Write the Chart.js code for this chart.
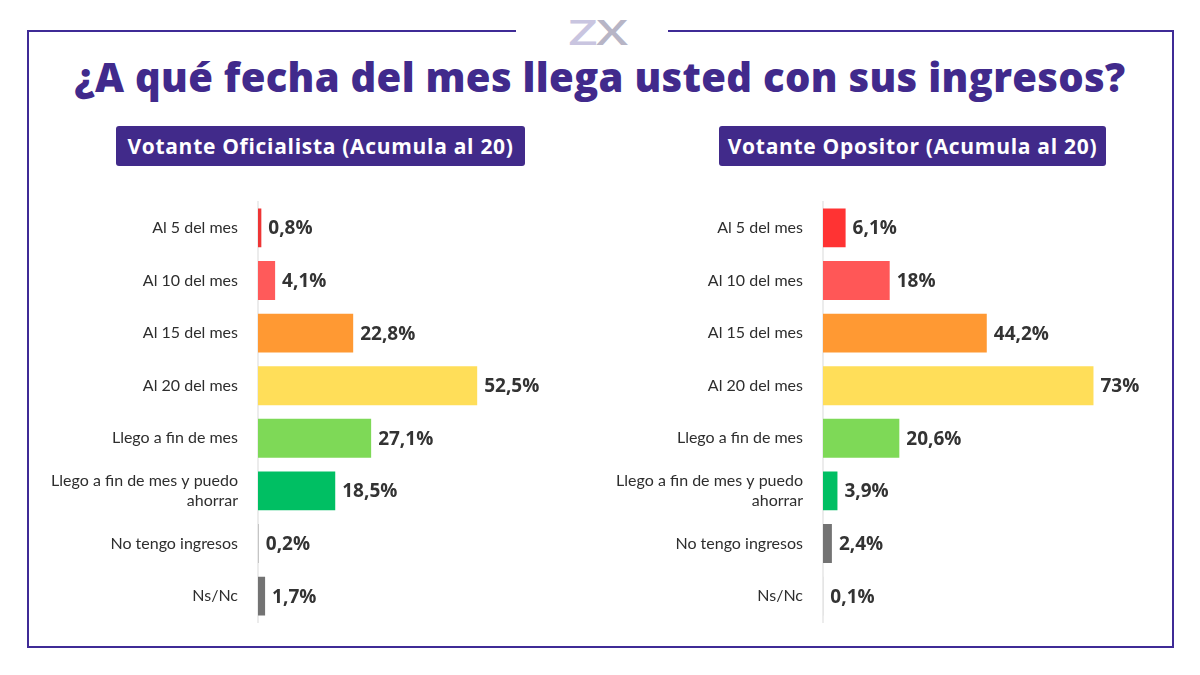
<!DOCTYPE html>
<html>
<head>
<meta charset="utf-8">
<script src="https://cdn.jsdelivr.net/npm/chart.js@4"></script>
<style>
    body { margin: 0; background: #fff; }
    #page { position: relative; width: 1200px; height: 675px; overflow: hidden; background: #fff; font-family: "Open Sans", sans-serif; }
    .frame { position: absolute; left: 27px; top: 30px; width: 1143px; height: 614px; border: 2px solid #3f2b96; }
    .logo { position: absolute; left: 516px; top: 12px; width: 152px; height: 40px; background: #fff; text-align: center; font: 600 34px "Open Sans", sans-serif; line-height: 40px; }
    .logo span.in { display: inline-block; transform: scaleX(1.5); letter-spacing: -1px; margin-left: 10px; }
    .logo .z { color: #c9c5e0; }
    .logo .x { color: #b7b5c6; }
    h1 { position: absolute; left: 0; top: 50px; width: 1200px; margin: 0; text-align: center; font: 800 40px "Open Sans", sans-serif; line-height: 54px; color: #412a8c; letter-spacing: 0.3px; }
    .tag { position: absolute; top: 126px; height: 40px; background: #412a8a; color: #fff; border-radius: 3px; font: 700 21px "Open Sans", sans-serif; line-height: 41px; letter-spacing: 0.7px; text-align: center; white-space: nowrap; }
    .box { position: absolute; }
</style>
</head>
<body>
<div id="page">
    <div class="frame"></div>
    <div class="logo"><span class="in"><span class="z">Z</span><span class="x">X</span></span></div>
    <h1>¿A qué fecha del mes llega usted con sus ingresos?</h1>
    <div class="tag" style="left:116px;width:409px;">Votante Oficialista (Acumula al 20)</div>
    <div class="tag" style="left:719px;width:387px;">Votante Opositor (Acumula al 20)</div>
    <div class="box" style="left:30px;top:172px;width:562px;height:480px;"><canvas id="left"></canvas></div>
    <div class="box" style="left:600px;top:172px;width:575px;height:480px;"><canvas id="right"></canvas></div>
</div>
<script>
let categories = [
    "Al 5 del mes",
    "Al 10 del mes",
    "Al 15 del mes",
    "Al 20 del mes",
    "Llego a fin de mes",
    ["Llego a fin de mes y puedo", "ahorrar"],
    "No tengo ingresos",
    "Ns/Nc"
];
let oficialista = [0.8, 4.1, 22.8, 52.5, 27.1, 18.5, 0.2, 1.7];
let opositor = [6.1, 18, 44.2, 73, 20.6, 3.9, 2.4, 0.1];
let colors_left = ["#ee3535", "#ff5a5a", "#ff9933", "#ffde59", "#7ed957", "#00bf63", "#bdbdbd", "#737373"];
let colors_right = ["#ff3333", "#ff5757", "#ff9933", "#ffde59", "#7ed957", "#00bf63", "#737373", "#d9d9d9"];

// value labels after each bar
let valueLabels = {
    id: "valueLabels",
    afterDatasetsDraw(chart) {
        let ctx = chart.ctx;
        let meta = chart.getDatasetMeta(0);
        ctx.save();
        ctx.font = "700 19px 'Open Sans', sans-serif";
        ctx.fillStyle = "#333333";
        ctx.textAlign = "left";
        ctx.textBaseline = "middle";
        meta.data.forEach(function(bar, i) {
            let v = chart.data.datasets[0].data[i];
            let txt = String(v).replace(".", ",") + "%";
            ctx.fillText(txt, bar.x + 7, bar.y + 1);
        });
        ctx.restore();
    }
};

function makeChart(id, values, barColors, axisWidth, maxValue) {
    let ctx = document.getElementById(id).getContext("2d");
    return new Chart(ctx, {
        type: "bar",
        data: {
            labels: categories,
            datasets: [{
                data: values,
                backgroundColor: barColors,
                borderWidth: 0,
                barPercentage: 0.86,
                categoryPercentage: 0.86
            }]
        },
        options: {
            indexAxis: "y",
            responsive: true,
            maintainAspectRatio: false,
            animation: false,
            layout: { padding: 0 },
            plugins: {
                legend: { display: false },
                tooltip: { enabled: false }
            },
            scales: {
                x: {
                    display: false,
                    min: 0,
                    max: maxValue
                },
                y: {
                    afterFit: function(scale) { scale.width = axisWidth; },
                    grid: { display: false, drawTicks: false },
                    border: { display: true, color: "#ececec", width: 2 },
                    ticks: {
                        padding: 20,
                        color: "#2e2e2e",
                        font: { family: "Lato, sans-serif", size: 16, lineHeight: 1.2 }
                    }
                }
            }
        },
        plugins: [valueLabels]
    });
}

makeChart("left", oficialista, colors_left, 228, 80);
makeChart("right", opositor, colors_right, 223, 95);
</script>
</body>
</html>
